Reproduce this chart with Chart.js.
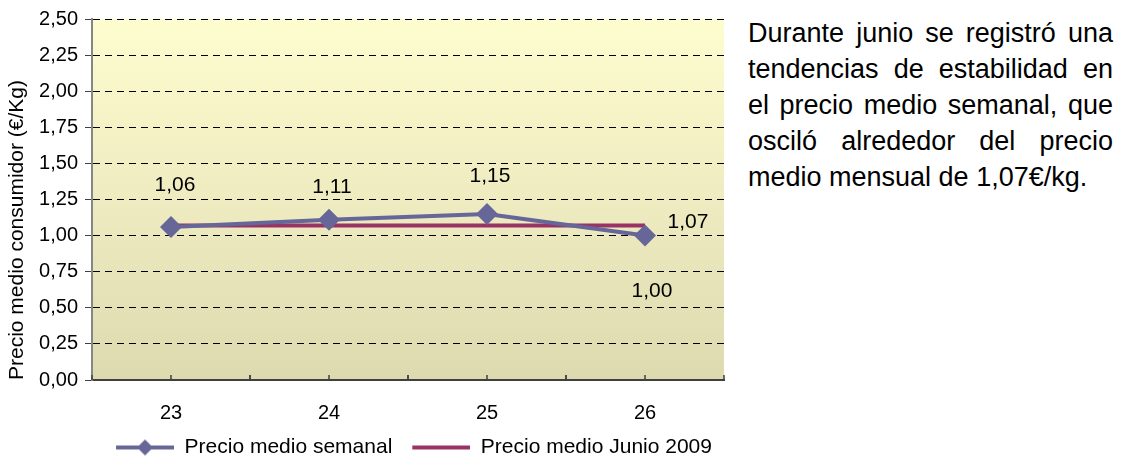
<!DOCTYPE html>
<html>
<head>
<meta charset="utf-8">
<title>Precio medio consumidor</title>
<script src="https://cdn.jsdelivr.net/npm/chart.js@4.4.0/dist/chart.umd.min.js"></script>
<style>
  html, body { margin: 0; padding: 0; background: #fff; overflow: hidden; }
  #wrap { position: absolute; left: 0; top: 0; width: 735px; height: 468px; }
  #note {
    position: absolute; left: 748px; top: 15px; width: 365px;
    font-family: "Liberation Sans", Arial, sans-serif; font-size: 27px; line-height: 36px; color: #000;
  }
  #note div { text-align: justify; text-align-last: justify; white-space: nowrap; }
  #note div.last { text-align-last: left; }
</style>
</head>
<body>
<div id="wrap"><canvas id="myChart"></canvas></div>
<div id="note">
  <div>Durante junio se registró una</div>
  <div>tendencias de estabilidad en</div>
  <div>el precio medio semanal, que</div>
  <div>osciló alrededor del precio</div>
  <div class="last">medio mensual de 1,07€/kg.</div>
</div>
<script>
// data
const weeks = ['23', '24', '25', '26']
const weeklyPrice = [1.06, 1.11, 1.15, 1.00]
const monthlyPrice = [1.07, 1.07, 1.07, 1.07]
const seriesNames = ['Precio medio semanal', 'Precio medio Junio 2009']

const FONT = '"Liberation Sans", Arial, sans-serif'
const BLUE = '#666699'
const MAROON = '#993366'

const fmt = v => v.toFixed(2).replace('.', ',')

// legend symbols: a line (with diamond for the weekly series)
function legendSymbol (color, diamond, boxW) {
  const lineW = 58
  const c = document.createElement('canvas')
  c.width = boxW
  c.height = 20
  const g = c.getContext('2d')
  const x0 = boxW - lineW
  g.strokeStyle = color
  g.lineWidth = 4
  g.beginPath()
  g.moveTo(x0, 10)
  g.lineTo(boxW, 10)
  g.stroke()
  if (diamond) {
    const cx = x0 + lineW / 2
    g.fillStyle = color
    g.beginPath()
    g.moveTo(cx - 8, 10)
    g.lineTo(cx, 2)
    g.lineTo(cx + 8, 10)
    g.lineTo(cx, 18)
    g.closePath()
    g.fill()
  }
  return c
}

const BOX_W = 70
const symbols = [legendSymbol(BLUE, true, BOX_W), legendSymbol(MAROON, false, BOX_W)]

// gradient behind the plot area
const plotBackground = {
  id: 'plotBackground',
  beforeDraw (chart) {
    const { ctx, chartArea: a } = chart
    const grad = ctx.createLinearGradient(0, a.top, 0, a.bottom)
    grad.addColorStop(0, '#fefdcf')
    grad.addColorStop(1, '#dddab0')
    ctx.save()
    ctx.fillStyle = grad
    ctx.fillRect(a.left, a.top, a.right - a.left, a.bottom - a.top)
    ctx.restore()
  }
}

// small inward tick marks on the category axis (band edges and centres)
const xTickMarks = {
  id: 'xTickMarks',
  afterDraw (chart) {
    const { ctx, chartArea: a } = chart
    const x = chart.scales.x
    const half = (x.getPixelForValue(1) - x.getPixelForValue(0)) / 2
    ctx.save()
    ctx.strokeStyle = '#404040'
    ctx.lineWidth = 1.5
    weeks.forEach((w, i) => {
      const c = x.getPixelForValue(i)
      ;[c - half, c, c + half].forEach(px => {
        ctx.beginPath()
        ctx.moveTo(px, a.bottom - 5)
        ctx.lineTo(px, a.bottom)
        ctx.stroke()
      })
    })
    ctx.restore()
  }
}

// value labels next to the points
const pointLabels = {
  id: 'pointLabels',
  afterDatasetsDraw (chart, args, opts) {
    const { ctx } = chart
    ctx.save()
    ctx.font = '21px ' + FONT
    ctx.fillStyle = '#000'
    ctx.textAlign = 'center'
    ctx.textBaseline = 'middle'
    opts.offsets.forEach((list, di) => {
      const meta = chart.getDatasetMeta(di)
      const values = chart.data.datasets[di].data
      list.forEach((o, j) => {
        if (!o) return
        const p = meta.data[j]
        ctx.fillText(fmt(values[j]), p.x + o[0], p.y + o[1])
      })
    })
    ctx.restore()
  }
}

const ctx = document.getElementById('myChart').getContext('2d')
const myChart = new Chart(ctx, {
  type: 'line',
  data: {
    labels: weeks,
    datasets: [{
      label: seriesNames[0],
      data: weeklyPrice,
      borderColor: BLUE,
      backgroundColor: BLUE,
      borderWidth: 4,
      pointStyle: 'rectRot',
      pointRadius: 11,
      pointHoverRadius: 11,
      pointBorderWidth: 0,
      tension: 0
    }, {
      label: seriesNames[1],
      data: monthlyPrice,
      borderColor: MAROON,
      backgroundColor: MAROON,
      borderWidth: 4,
      pointRadius: 0,
      pointHoverRadius: 0,
      tension: 0
    }]
  },
  options: {
    responsive: true,
    maintainAspectRatio: false,
    animation: false,
    layout: { padding: { left: 0, right: 11, top: 17, bottom: 0 } },
    scales: {
      x: {
        offset: true,
        grid: { display: false, drawTicks: false },
        border: { display: true, color: '#404040', width: 2 },
        ticks: { color: '#000', font: { family: FONT, size: 20 }, padding: 21 },
        afterFit (s) { s.height = 49 }
      },
      y: {
        min: 0,
        max: 2.5,
        ticks: {
          stepSize: 0.25,
          color: '#000',
          font: { family: FONT, size: 20 },
          padding: 7,
          callback: v => fmt(v)
        },
        grid: {
          color: c => (c.tick && c.tick.value === 0 ? 'rgba(0,0,0,0)' : '#000'),
          tickColor: '#404040',
          tickLength: 7,
          lineWidth: 1
        },
        border: { display: true, color: '#868686', width: 2, dash: [7, 5] },
        title: {
          display: true,
          text: 'Precio medio consumidor (€/Kg)',
          align: 'start',
          color: '#000',
          font: { family: FONT, size: 21 },
          padding: 5
        },
        afterFit (s) { s.width = 92 }
      }
    },
    plugins: {
      legend: {
        position: 'bottom',
        fullSize: false,
        labels: {
          usePointStyle: true,
          pointStyleWidth: BOX_W,
          color: '#000',
          font: { family: FONT, size: 21 },
          padding: 8,
          generateLabels: chart => chart.data.datasets.map((ds, i) => ({
            text: ds.label,
            pointStyle: symbols[i],
            fillStyle: ds.borderColor,
            strokeStyle: ds.borderColor,
            lineWidth: 0,
            hidden: false,
            datasetIndex: i
          }))
        }
      },
      tooltip: { enabled: false },
      pointLabels: {
        offsets: [
          [[4, -42], [3, -33], [3, -38], [7, 56]],
          [null, null, null, [43, -3]]
        ]
      }
    }
  },
  plugins: [plotBackground, xTickMarks, pointLabels]
})
</script>
</body>
</html>
